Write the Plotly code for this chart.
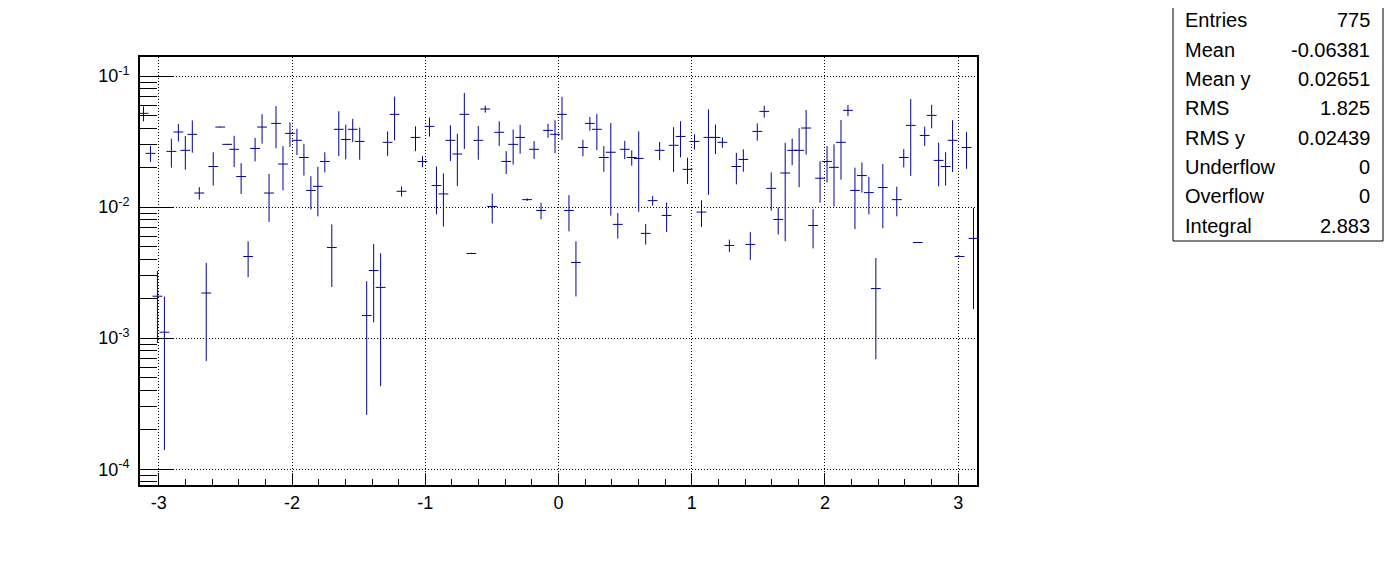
import math
import plotly.graph_objects as go

# ---- data -------------------------------------------------------------
n_bins = 120
x_min, x_max = -math.pi, math.pi

profile_y = [
    0.0519, 0.0257, 0.00209, 0.00111, 0.0266, 0.0374, 0.0271, 0.0359, 0.0128, 0.00221,
    0.0204, 0.0408, 0.0301, 0.0276, 0.0171, 0.00420, 0.0280, 0.0408, 0.0128, 0.0435,
    0.0213, 0.0365, 0.0323, 0.0239, 0.0134, 0.0144, 0.0223, 0.00492, 0.0392, 0.0328,
    0.0392, 0.0317, 0.00149, 0.00328, 0.00244, 0.0312, 0.0510, 0.0132, None, 0.0340,
    0.0223, 0.0413, 0.0146, 0.0126, 0.0323, 0.0254, 0.0510, 0.00443, 0.0323, 0.0560,
    0.0101, 0.0372, 0.0223, 0.0301, 0.0340, 0.0114, 0.0276, 0.00943, 0.0385, 0.0359,
    0.0510, 0.00943, 0.00378, 0.0285, 0.0435, 0.0392, 0.0239, 0.0262, 0.00738, 0.0276,
    0.0239, 0.0235, 0.00630, 0.0112, 0.0271, 0.00864, 0.0296, 0.0346, 0.0194, 0.0317,
    0.00916, 0.0340, 0.0340, 0.0312, 0.00510, 0.0204, 0.0231, 0.00519, 0.0378, 0.0537,
    0.0139, 0.00805, 0.0182, 0.0271, 0.0271, 0.0401, 0.00724, 0.0166, 0.0223, 0.0201,
    0.0312, 0.0547, 0.0134, 0.0174, 0.0129, 0.00239, 0.0141, None, 0.0114, 0.0239,
    0.0420, 0.00537, 0.0352, 0.0501, 0.0227, 0.0204, 0.0323, 0.00420, 0.0285, 0.00577,
]

profile_err = [
    0.0068, 0.0036, 0.00117, 0.00097, 0.0066, 0.0057, 0.0078, 0.0099, 0.0014, 0.00154,
    0.0058, 0.0003, 0.0003, 0.0074, 0.0045, 0.00128, 0.0057, 0.0103, 0.0051, 0.0154,
    0.0079, 0.0077, 0.0073, 0.0065, 0.0038, 0.0059, 0.0039, 0.00246, 0.0147, 0.0097,
    0.0079, 0.0087, 0.00123, 0.00196, 0.00201, 0.0066, 0.0187, 0.00115, None, 0.0073,
    0.00215, 0.0068, 0.0058, 0.0055, 0.0098, 0.0109, 0.0232, 0.00005, 0.0093, 0.0035,
    0.0026, 0.0079, 0.0044, 0.0090, 0.0084, 0.00027, 0.0043, 0.00136, 0.0047, 0.0101,
    0.0185, 0.0029, 0.0017, 0.0041, 0.0052, 0.0120, 0.0053, 0.0176, 0.00163, 0.0044,
    0.0032, 0.0143, 0.00112, 0.00095, 0.0043, 0.0022, 0.0111, 0.0106, 0.0044, 0.0042,
    0.0021, 0.0216, 0.0086, 0.0028, 0.00055, 0.0055, 0.0045, 0.00124, 0.0057, 0.0056,
    0.0045, 0.00187, 0.0127, 0.0062, 0.0129, 0.0150, 0.0024, 0.0058, 0.0069, 0.0100,
    0.0150, 0.0053, 0.0066, 0.0045, 0.0041, 0.0017, 0.0072, None, 0.0029, 0.0038,
    0.0247, 0.00005, 0.0059, 0.0102, 0.0083, 0.0058, 0.0138, 0.00005, 0.0089, 0.0041,
]

x_tick_vals = [-3, -2, -1, 0, 1, 2, 3]
x_tick_text = ["-3", "-2", "-1", "0", "1", "2", "3"]
y_tick_vals = [1e-4, 1e-3, 1e-2, 1e-1]
y_tick_text = ["10<sup>-4</sup>", "10<sup>-3</sup>", "10<sup>-2</sup>", "10<sup>-1</sup>"]

stats_labels = ["Entries", "Mean", "Mean y", "RMS", "RMS y", "Underflow", "Overflow", "Integral"]
stats_values = ["775", "-0.06381", "0.02651", "1.825", "0.02439", "0", "0", "2.883"]

# ---- figure -----------------------------------------------------------
bin_w = (x_max - x_min) / n_bins
x_centers = [x_min + (i + 0.5) * bin_w for i in range(n_bins)]

LINE = "#000099"
FONT = "Liberation Sans, Arial, Helvetica, sans-serif"

# the page body has an 8px margin; work in page pixels and shift
OFF = 8
W, H = 1396 - OFF, 572 - OFF
L, R, T, B = 140 - OFF, 977 - OFF, 57 - OFF, 485 - OFF

fig = go.Figure()
fig.add_trace(go.Scatter(
    x=x_centers, y=profile_y, mode="markers",
    marker=dict(symbol="line-ew", size=7, color=LINE, line=dict(width=1, color=LINE)),
    error_y=dict(type="data", array=profile_err, symmetric=True, thickness=1, width=0, color=LINE),
    showlegend=False, hoverinfo="x+y",
))

fig.update_layout(
    width=W, height=H, autosize=False,
    margin=dict(l=L, r=W - R, t=T, b=H - B, pad=0),
    paper_bgcolor="white", plot_bgcolor="white",
    font=dict(family=FONT, size=18, color="black"),
)
fig.update_xaxes(
    range=[x_min, x_max], tickvals=x_tick_vals, ticktext=x_tick_text,
    ticks="inside", ticklen=12, tickwidth=1, tickcolor="black",
    minor=dict(ticks="inside", ticklen=6, tickwidth=1, tickcolor="black", dtick=0.2, tick0=0, showgrid=False),
    showline=True, linecolor="black", linewidth=2, mirror=True,
    showgrid=True, gridcolor="black", griddash="1px,2px", gridwidth=1,
    zeroline=False, tickfont=dict(size=18, family=FONT),
)
fig.update_yaxes(
    type="log", range=[-4.12, -0.855], tickvals=y_tick_vals, ticktext=y_tick_text,
    ticks="inside", ticklen=33, tickwidth=1, tickcolor="black", ticklabelstandoff=5,
    minor=dict(ticks="inside", ticklen=17, tickwidth=1, tickcolor="black", dtick="D1", showgrid=False),
    showline=True, linecolor="black", linewidth=2, mirror=True,
    showgrid=True, gridcolor="black", griddash="1px,2px", gridwidth=1,
    zeroline=False, tickfont=dict(size=18, family=FONT),
)

# stats box
def px_to_paper_x(px):
    return (px - OFF - L) / (R - L)

def px_to_paper_y(py):
    return (B - (py - OFF)) / (B - T)

box_l, box_r, box_t, box_b = 1173, 1383, 2, 241
fig.add_shape(type="rect", xref="paper", yref="paper",
              x0=px_to_paper_x(box_l), x1=px_to_paper_x(box_r),
              y0=px_to_paper_y(box_b), y1=px_to_paper_y(box_t),
              line=dict(color="black", width=1), fillcolor="white", layer="above")
row_first, row_step = 20.5, 29.3
for i, (lab, val) in enumerate(zip(stats_labels, stats_values)):
    yc = row_first + i * row_step
    fig.add_annotation(x=px_to_paper_x(box_l + 10), y=px_to_paper_y(yc), xref="paper", yref="paper",
                       text=lab, showarrow=False, xanchor="left", yanchor="middle",
                       font=dict(size=20, family=FONT, color="black"))
    fig.add_annotation(x=px_to_paper_x(box_r - 11), y=px_to_paper_y(yc), xref="paper", yref="paper",
                       text=val, showarrow=False, xanchor="right", yanchor="middle",
                       font=dict(size=20, family=FONT, color="black"))

fig.write_html("out.html")
